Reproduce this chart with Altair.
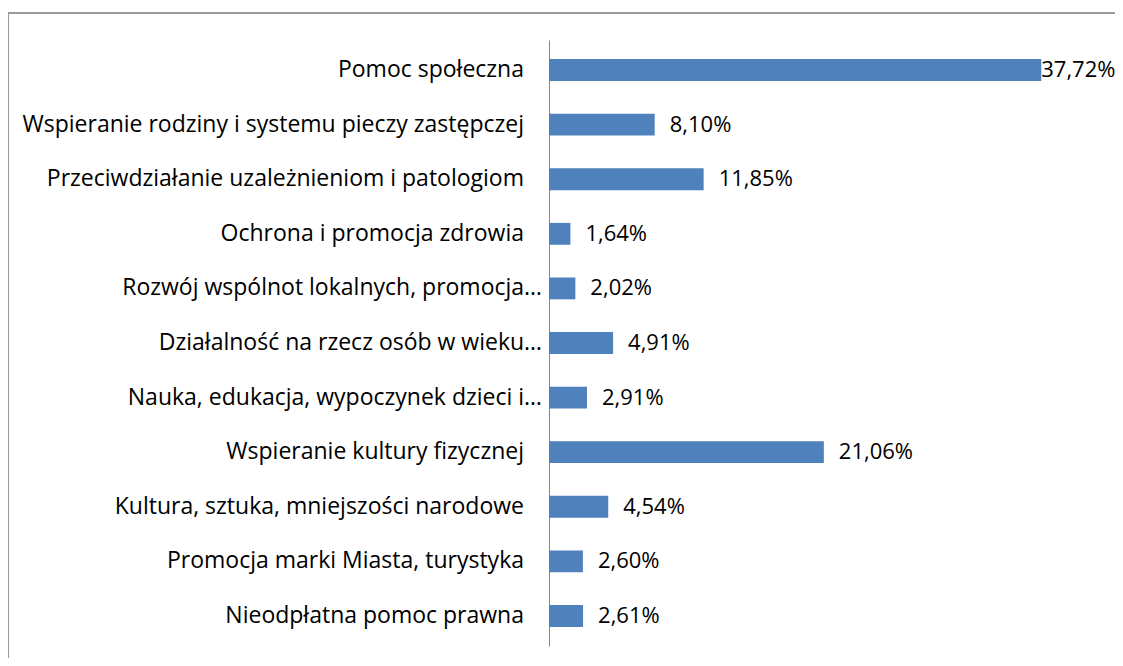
import altair as alt
import pandas as pd

categories = [
    "Pomoc społeczna",
    "Wspieranie rodziny i systemu pieczy zastępczej",
    "Przeciwdziałanie uzależnieniom i patologiom",
    "Ochrona i promocja zdrowia",
    "Rozwój wspólnot lokalnych, promocja…",
    "Działalność na rzecz osób w wieku…",
    "Nauka, edukacja, wypoczynek dzieci i…",
    "Wspieranie kultury fizycznej",
    "Kultura, sztuka, mniejszości narodowe",
    "Promocja marki Miasta, turystyka",
    "Nieodpłatna pomoc prawna",
]
values = [37.72, 8.10, 11.85, 1.64, 2.02, 4.91, 2.91, 21.06, 4.54, 2.60, 2.61]

df = pd.DataFrame({"kategoria": categories, "udzial": values})

W = 522
H = 606
FONT = "Open Sans"
FS = 23
VFS = 22

y = alt.Y(
    "kategoria:N",
    sort=categories,
    scale=alt.Scale(paddingInner=0.6, paddingOuter=0.35),
    axis=alt.Axis(
        title=None, ticks=False, labels=False,
        domainColor="#868686", domainWidth=1, grid=False,
    ),
)
x = alt.X("udzial:Q", scale=alt.Scale(domain=[0, 40], nice=False, zero=True), axis=None)

base = alt.Chart(df).transform_calculate(
    lbl="replace(format(datum.udzial, '.2f'), '.', ',') + '%'"
)
bars = base.mark_bar(color="#4F81BD").encode(x=x, y=y)

cat_full = base.transform_filter("indexof(datum.kategoria, '…') < 0").mark_text(
    align="right", dx=-25, font=FONT, fontSize=FS, color="black"
).encode(x=alt.value(0), y=y, text="kategoria:N")
cat_cut = base.transform_filter("indexof(datum.kategoria, '…') >= 0").mark_text(
    align="right", dx=-7, font=FONT, fontSize=FS, color="black"
).encode(x=alt.value(0), y=y, text="kategoria:N")

txt_small = base.transform_filter("datum.udzial < 30").mark_text(
    align="left", dx=15, font=FONT, fontSize=VFS, color="black"
).encode(x=x, y=y, text="lbl:N")
txt_big = base.transform_filter("datum.udzial >= 30").mark_text(
    align="left", dx=0, font=FONT, fontSize=VFS, color="black"
).encode(x=x, y=y, text="lbl:N")

one = pd.DataFrame({"a": [0]})
frame_top = alt.Chart(one).mark_rule(color="#9a9a9a", strokeWidth=2).encode(
    x=alt.value(-541), x2=alt.value(620), y=alt.value(-27)
)
frame_left = alt.Chart(one).mark_rule(color="#9a9a9a", strokeWidth=2).encode(
    x=alt.value(-541), y=alt.value(-27), y2=alt.value(640)
)

chart = alt.layer(
    frame_top, frame_left, bars, cat_full, cat_cut, txt_small, txt_big
).properties(
    width=W, height=H,
    autosize=alt.AutoSizeParams(type="none"),
    padding={"left": 541, "top": 32, "right": 44, "bottom": 12},
).configure_view(stroke=None)

chart.save("out.html", embed_options={"renderer": "svg", "actions": False})
